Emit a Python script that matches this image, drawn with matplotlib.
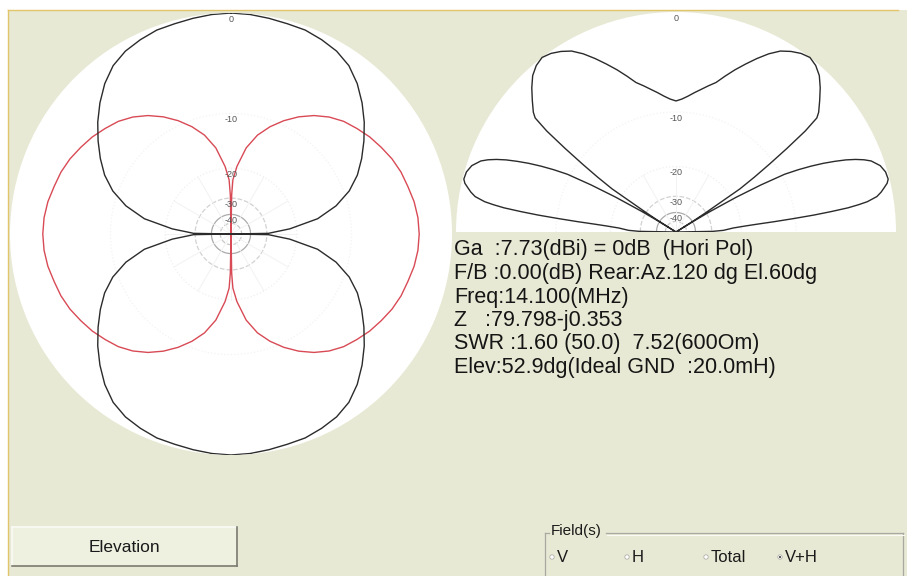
import numpy as np
import matplotlib.pyplot as plt
from matplotlib.patches import Rectangle, Circle, Wedge

plt.rcParams['font.family'] = ['Liberation Sans', 'DejaVu Sans']

# Диаграммы направленности (дБ относительно максимума), четверть диаграммы,
# угол от вертикали в градусах; остальное получается отражением
hpol_ang = [0, 5, 10, 15, 20, 25, 30, 35, 40, 45, 50, 55, 60, 65, 70, 75, 80, 85, 88, 89, 90]
hpol_db = [0.0, -0.05, -0.15, -0.25, -0.3, -0.5, -0.75, -1.2, -1.95, -2.9, -3.95, -5.1,
           -6.3, -7.6, -9.3, -11.7, -15.2, -21.8, -27.8, -29.3, -100]

vpol_ang = [0, 1, 2, 5, 10, 15, 20, 25, 30, 35, 40, 45, 50, 55, 60, 65, 70, 75, 80, 85, 90]
vpol_db = [-100, -28.5, -23.2, -19.5, -15.3, -12.7, -10.9, -9.4, -8.1, -7.0, -6.1, -5.4,
           -4.9, -4.4, -4.0, -3.6, -3.3, -3.1, -2.85, -2.7, -2.65]

# Вертикальная диаграмма (угол от зенита)
elev_ang = [0, 2.5, 5, 7.5, 10, 12.5, 15, 17.5, 20, 22.5, 25, 27.5, 30, 32.5, 35, 37.5,
            40, 42.5, 45, 47.5, 50, 51, 52, 53, 54, 55, 56, 57, 57.5, 58,
            58.5, 59, 60, 61, 62, 63, 64, 65, 66, 67, 68, 69, 70, 72, 74, 76, 77, 78, 79,
            80, 81, 81.5, 82, 82.5, 83, 83.5, 84, 84.5, 85, 86, 88, 89, 90]
elev_db = [-8.55, -8.3, -7.9, -7.4, -6.9, -6.35, -5.8, -4.9, -4.0, -3.15, -2.3, -1.5,
           -0.85, -0.45, -0.15, 0.0, -0.2, -0.6, -1.25, -2.0, -2.75, -3.2, -4.85, -7.6,
           -10.6, -13.7, -17.3, -30, -38, -100,
           -36, -28, -19, -13.5, -9.6, -7.8, -6.3, -5.0, -3.9, -2.9, -2.1, -1.45, -0.95,
           -0.4, -0.15, -0.1, -0.25, -0.55, -0.85, -1.25, -2.1, -2.9, -3.9, -5.6, -7.6,
           -10.3, -13.2, -16.4, -18.8, -22.2, -25.3, -29.5, -100]

ring_db = [0, -10, -20, -30, -40]
ring_labels = ['0', '-10', '-20', '-30', '-40']

info_lines = [
    'Ga  :7.73(dBi) = 0dB  (Hori Pol)',
    'F/B :0.00(dB) Rear:Az.120 dg El.60dg',
    'Freq:14.100(MHz)',
    'Z   :79.798-j0.353',
    'SWR :1.60 (50.0)  7.52(600Om)',
    'Elev:52.9dg(Ideal GND  :20.0mH)',
]
field_opts = ['V', 'H', 'Total', 'V+H']
field_x = [552, 627, 706, 780]

BG = '#e8e9d4'
BLACK = '#2b2b2b'
RED = '#d84a55'
RING_STYLE = {-10: ('#f3f3f3', ':'), -20: ('#f0f0f0', ':'), -30: ('#d2d2d2', '--'),
              -40: ('#ababab', '-'), -50: ('#c8c8c8', '--')}


def db2r(db):
    # логарифмическая шкала: -10 дБ ~ 0.55 радиуса
    return 10 ** (np.asarray(db, dtype=float) / 38.0)


def mirror4(ang, db):
    a = np.asarray(ang, float)
    d = np.asarray(db, float)
    th = np.concatenate([a, 180 - a[::-1][1:], 180 + a[1:], 360 - a[::-1][1:]])
    vals = np.concatenate([d, d[::-1][1:], d[1:], d[::-1][1:]])
    return np.radians(th), vals


def mirror2(ang, db):
    a = np.asarray(ang, float)
    d = np.asarray(db, float)
    th = np.concatenate([-a[::-1], a[1:]])
    vals = np.concatenate([d[::-1], d[1:]])
    return np.radians(th), vals


def ring_labels_at(ax, tx):
    for db, lab in zip(ring_db, ring_labels):
        ax.text(*tx(db2r(db) - 0.028), lab, ha='center', va='center', fontsize=6.5,
                color='#555555', zorder=4)


fig = plt.figure(figsize=(9.07, 5.76), dpi=100, facecolor='white')

# фон окна, кнопка и группа переключателей в пиксельных координатах
bg = fig.add_axes([0, 0, 1, 1])
bg.set_xlim(0, 907)
bg.set_ylim(576, 0)
bg.axis('off')
bg.add_patch(Rectangle((8, 10), 899, 566, facecolor=BG, edgecolor='none'))
bg.plot([8, 898], [10, 10], color='#e2c46a', lw=1.0)
bg.plot([8, 8], [10, 576], color='#e2c46a', lw=1.0)

for i, line in enumerate(info_lines):
    bg.text(454, 250 + i * 23.5, line, fontsize=15.5, color='#151515', va='center',
            ha='left')

# кнопка Elevation
bg.add_patch(Rectangle((12, 527), 225, 39, facecolor='#eef0e0', edgecolor='none'))
bg.plot([12, 237], [527, 527], color='#fafaf5', lw=1.2)
bg.plot([12, 12], [527, 566], color='#fafaf5', lw=1.2)
bg.plot([12, 237], [566, 566], color='#7a7a70', lw=1.2)
bg.plot([237, 237], [527, 566], color='#7a7a70', lw=1.2)
bg.text(124.5, 547, 'Elevation', fontsize=12.5, ha='center', va='center', color='#1a1a1a')

# группа Field(s)
bg.plot([606, 903], [533, 533], color='#a8a8a0', lw=0.9)
bg.plot([545, 549], [533, 533], color='#a8a8a0', lw=0.9)
bg.plot([545, 545], [533, 576], color='#a8a8a0', lw=0.9)
bg.plot([903, 903], [533, 576], color='#a8a8a0', lw=0.9)
bg.plot([607, 904], [534.5, 534.5], color='#fbfbf5', lw=0.8)
bg.text(551, 531, 'Field(s)', fontsize=11, ha='left', va='center', color='#1a1a1a')
for x, opt in zip(field_x, field_opts):
    bg.add_patch(Circle((x, 557), 2.2, facecolor='white', edgecolor='#b0b0a8', lw=0.6))
    if opt == 'V+H':
        bg.add_patch(Circle((x, 557), 1.0, facecolor='#333333', edgecolor='none'))
    bg.text(x + 5, 557, opt, fontsize=12, ha='left', va='center', color='#1a1a1a')

# горизонтальная диаграмма: V (красный) и H (чёрный)
axl = fig.add_axes([10 / 907, 1 - 455 / 576, 442 / 907, 442 / 576], projection='polar')
axl.set_theta_zero_location('N')
axl.set_theta_direction(-1)
axl.set_rlim(0, 1)
axl.grid(False)
axl.set_xticks([])
axl.set_yticks([])
axl.spines['polar'].set_visible(False)
axl.set_facecolor('white')
t = np.linspace(0, 2 * np.pi, 361)
for db, (c, ls) in RING_STYLE.items():
    axl.plot(t, np.full_like(t, db2r(db)), color=c, lw=0.9, ls=ls, zorder=1)
for a in np.radians(np.arange(0, 360, 30)):
    axl.plot([a, a], [0, db2r(-20)], color='#f2f2f2', lw=0.7, zorder=1)
ring_labels_at(axl, lambda r: (0, r))
th, d = mirror4(vpol_ang, vpol_db)
axl.plot(th, db2r(d), color=RED, lw=1.0, zorder=2)
th, d = mirror4(hpol_ang, hpol_db)
axl.plot(th, db2r(d), color=BLACK, lw=1.0, zorder=3)

# вертикальная диаграмма над идеальной землёй (полукруг)
axr = fig.add_axes([456 / 907, 1 - 232 / 576, 440 / 907, 220 / 576])
axr.set_xlim(-1, 1)
axr.set_ylim(0, 1)
axr.axis('off')
axr.add_patch(Wedge((0, 0), 1, 0, 180, facecolor='white', edgecolor='none', zorder=0))
t = np.radians(np.linspace(-90, 90, 181))
for db, (c, ls) in RING_STYLE.items():
    r = db2r(db)
    axr.plot(r * np.sin(t), r * np.cos(t), color=c, lw=0.9, ls=ls, zorder=1)
for a in np.radians(np.arange(-60, 61, 30)):
    axr.plot([0, db2r(-20) * np.sin(a)], [0, db2r(-20) * np.cos(a)], color='#f2f2f2',
             lw=0.7, zorder=1)
ring_labels_at(axr, lambda r: (0, r))
th, d = mirror2(elev_ang, elev_db)
r = db2r(d)
axr.plot(r * np.sin(th), r * np.cos(th), color=BLACK, lw=1.0, zorder=3)

fig.savefig('out.png', dpi=100, facecolor='white')
